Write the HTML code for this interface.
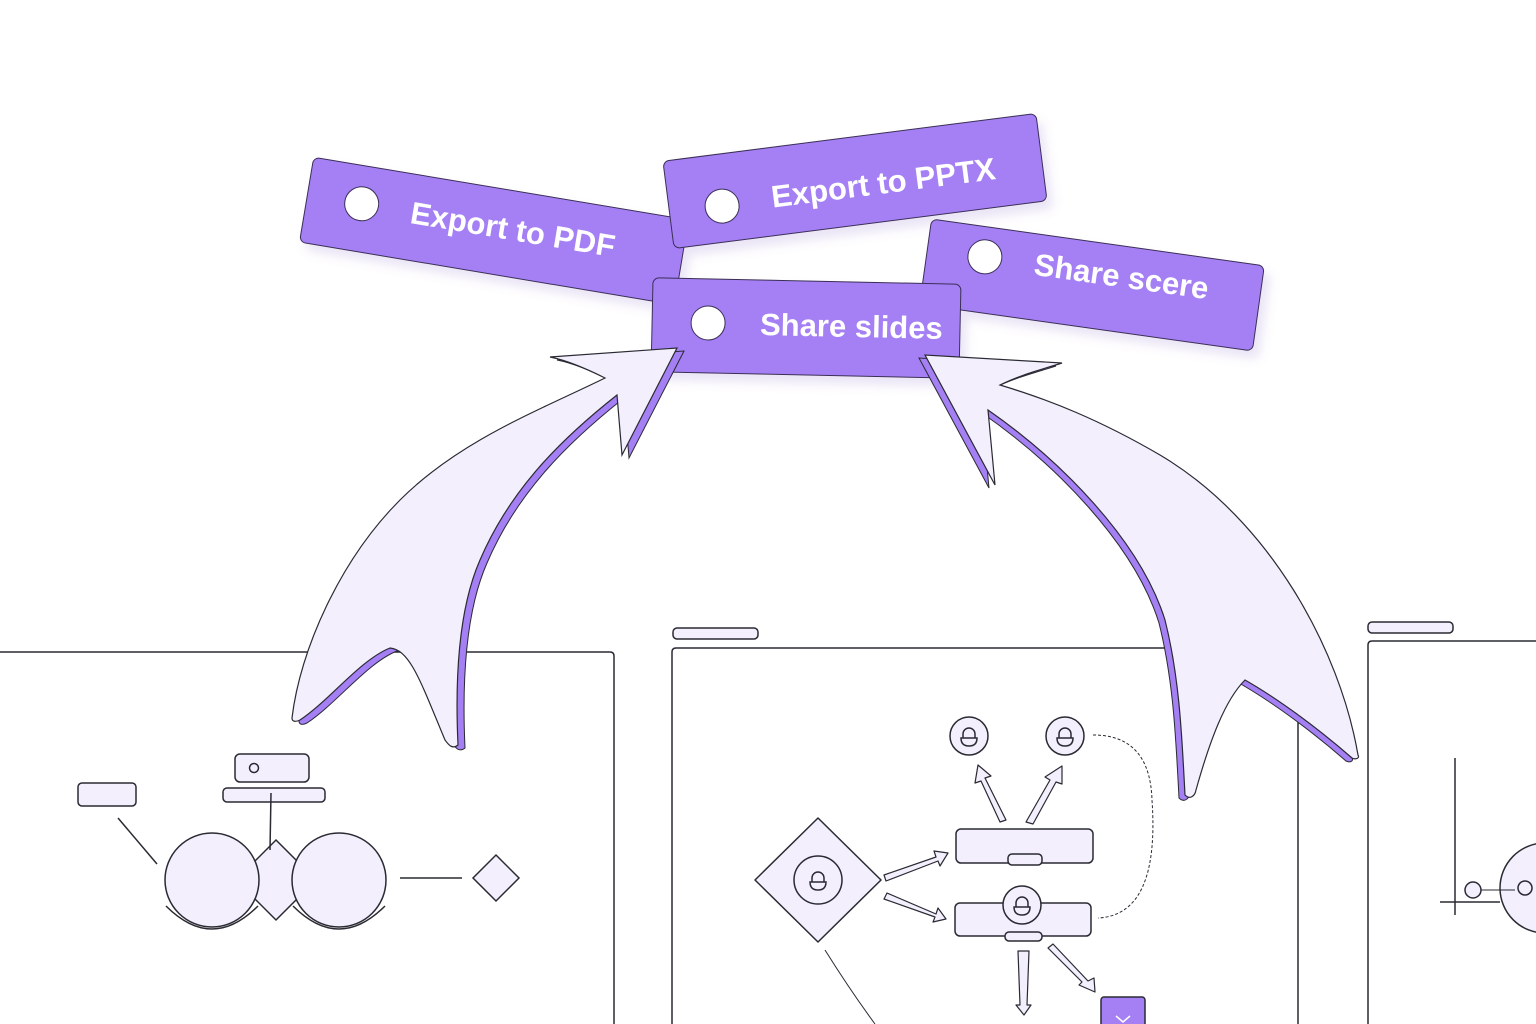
<!DOCTYPE html>
<html><head><meta charset="utf-8"><style>
html,body{margin:0;padding:0;background:#fff;}
svg{display:block;}
text{font-family:"Liberation Sans","DejaVu Sans",sans-serif;font-weight:bold;fill:#fff;}
</style></head><body>
<svg width="1536" height="1024" viewBox="0 0 1536 1024" xmlns="http://www.w3.org/2000/svg">
<defs>
<filter id="sh" x="-10%" y="-10%" width="130%" height="140%"><feDropShadow dx="6" dy="8" stdDeviation="5" flood-color="#8a70c8" flood-opacity="0.18"/></filter>
<g id="p"><path d="M-6 0 V-4 A6 6 0 0 1 6 -4 V0"/><path d="M-8 0 H8 Q8 8 0 8 Q-8 8 -8 0 Z"/></g>
</defs>
<g fill="none" stroke="#2a2a33" stroke-width="1.5">
<path d="M0 652 H610 Q614 652 614 656 V1024"/>
<path d="M672 1024 V652 Q672 648 676 648 H1294 Q1298 648 1298 652 V1024"/>
<path d="M1368 1024 V645 Q1368 641 1372 641 H1536"/>
<rect x="673" y="628" width="85" height="11" rx="4" fill="#f3effd"/>
<rect x="1368" y="622" width="85" height="11" rx="4" fill="#f3effd"/>
</g>

<g stroke="#2a2a33" stroke-width="1.5" fill="#f3effd">
<rect x="78" y="783" width="58" height="23" rx="4"/>
<rect x="235" y="754" width="74" height="28" rx="5"/>
<circle cx="254" cy="768" r="4.5"/>
<rect x="223" y="788" width="102" height="14" rx="4"/>
<path d="M276 840 L316 880 L276 920 L236 880 Z"/>
<circle cx="212" cy="880" r="47"/>
<circle cx="339" cy="880" r="47"/>
<path d="M496 855 L519 878 L496 901 L473 878 Z"/>
<path d="M166 906 Q212 952 258 906" fill="none"/>
<path d="M293 906 Q339 952 385 906" fill="none"/>
<line x1="271" y1="793" x2="270" y2="850"/>
<line x1="118" y1="818" x2="157" y2="864"/>
<line x1="400" y1="878" x2="462" y2="878"/>
</g>

<g stroke="#2a2a33" stroke-width="1.5" fill="#f3effd">
<path d="M825 950 Q850 990 875 1024" fill="none" stroke-width="1"/>
<path d="M1093 735 Q1150 735 1152 800 Q1160 915 1098 918" fill="none" stroke-dasharray="3 2" stroke-width="1"/>
<path d="M818 818 L881 880 L818 942 L755 880 Z" stroke-linejoin="round"/>
<circle cx="818" cy="880" r="24"/>
<circle cx="969" cy="736" r="19"/>
<circle cx="1065" cy="736" r="19"/>
<rect x="956" y="829" width="137" height="34" rx="5"/>
<rect x="1008" y="854" width="34" height="11" rx="4"/>
<rect x="955" y="903" width="136" height="33" rx="5"/>
<rect x="1005" y="932" width="37" height="9" rx="4"/>
<circle cx="1022" cy="905" r="19"/>
<rect x="1101" y="997" width="44" height="34" rx="3" fill="#a580f5"/>
</g>
<path d="M1116 1016 L1123 1022 L1130 1016" stroke="#fff" fill="none" stroke-width="1.5"/>
<g stroke="#2a2a33" stroke-width="1.5" fill="#f3effd">
<use href="#p" x="969" y="738"/>
<use href="#p" x="1065" y="738"/>
<use href="#p" x="1022" y="907"/>
<use href="#p" x="818" y="882"/>
</g>
<g stroke="#2a2a33" stroke-width="1.2" fill="#f3effd" stroke-linejoin="round">
<path d="M1000 822 L981 781 L975 783 L978 765 L991 776 L985 778 L1006 820 Z"/>
<path d="M1026 822 L1050 780 L1045 777 L1062 766 L1062 784 L1056 782 L1033 824 Z"/>
<path d="M884 875 L936 857 L934 851 L948 853 L940 866 L938 861 L886 881 Z"/>
<path d="M887 893 L936 914 L938 908 L946 919 L933 922 L935 917 L884 899 Z"/>
<path d="M1018 951 L1020 1005 L1016 1005 L1024 1015 L1031 1005 L1027 1005 L1029 951 Z"/>
<path d="M1048 948 L1082 982 L1079 985 L1095 992 L1094 978 L1088 981 L1053 944 Z"/>
</g>

<g stroke="#2a2a33" stroke-width="1.5" fill="#f3effd">
<line x1="1455" y1="758" x2="1455" y2="915" fill="none"/>
<line x1="1440" y1="902" x2="1500" y2="902" fill="none"/>
<circle cx="1545" cy="888" r="45"/>
<circle cx="1473" cy="890" r="8"/>
<path d="M1481 890 H1515" fill="none" stroke-width="1"/>
<circle cx="1525" cy="888" r="7" fill="none"/>
</g>

<!-- labels -->
<g filter="url(#sh)" stroke="#3a2f55" stroke-width="1">
<g transform="translate(494,231) rotate(9.5)">
<rect x="-190" y="-43" width="380" height="86" rx="6" fill="#a580f5"/>
<circle cx="-135" cy="-5" r="17" fill="#fff"/>
<text x="-85" y="6" font-size="31" stroke="none">Export to PDF</text>
</g>
<g transform="translate(855,181) rotate(-7.3)">
<rect x="-188" y="-44" width="376" height="88" rx="6" fill="#a580f5"/>
<circle cx="-135" cy="8" r="17" fill="#fff"/>
<text x="-85" y="16" font-size="31" stroke="none">Export to PPTX</text>
</g>
<g transform="translate(1092,285) rotate(8)">
<rect x="-168" y="-43" width="336" height="86" rx="6" fill="#a580f5"/>
<circle cx="-110" cy="-13" r="17" fill="#fff"/>
<text x="-60" y="-2" font-size="31" stroke="none">Share scere</text>
</g>
<g transform="translate(806,328) rotate(1.2)">
<rect x="-154" y="-47" width="308" height="94" rx="6" fill="#a580f5"/>
<circle cx="-98" cy="-3" r="17" fill="#fff"/>
<text x="-46" y="8" font-size="31" stroke="none">Share slides</text>
</g>
</g>

<!-- big arrows on top -->
<g>
<path transform="translate(7,3)" fill="#a580f5" stroke="#2a2a33" stroke-width="1" d="M292 718 C300 650 340 560 400 500 C460 440 540 410 605 378 C585 368 565 360 550 357 L677 348 L622 455 L617 395 C560 440 510 490 480 560 C458 610 455 680 458 745 C452 750 448 744 445 740 C420 680 410 650 390 648 C360 660 330 700 300 720 C296 722 292 722 292 718 Z"/>
<path fill="#f3effd" stroke="#2a2a33" stroke-width="1.2" d="M292 718 C300 650 340 560 400 500 C460 440 540 410 605 378 C585 368 565 360 550 357 L677 348 L622 455 L617 395 C560 440 510 490 480 560 C458 610 455 680 458 745 C452 750 448 744 445 740 C420 680 410 650 390 648 C360 660 330 700 300 720 C296 722 292 722 292 718 Z"/>
</g>
<g>
<path transform="translate(-6,3)" fill="#a580f5" stroke="#2a2a33" stroke-width="1" d="M1358 755 C1340 650 1270 520 1160 455 C1100 420 1050 400 1000 385 C1020 375 1040 370 1062 363 L925 355 L995 485 L988 410 C1060 460 1140 540 1165 620 C1180 680 1182 740 1185 795 C1190 800 1195 796 1196 790 C1210 740 1225 700 1245 680 C1280 700 1320 730 1352 758 C1356 760 1360 758 1358 755 Z"/>
<path fill="#f3effd" stroke="#2a2a33" stroke-width="1.2" d="M1358 755 C1340 650 1270 520 1160 455 C1100 420 1050 400 1000 385 C1020 375 1040 370 1062 363 L925 355 L995 485 L988 410 C1060 460 1140 540 1165 620 C1180 680 1182 740 1185 795 C1190 800 1195 796 1196 790 C1210 740 1225 700 1245 680 C1280 700 1320 730 1352 758 C1356 760 1360 758 1358 755 Z"/>
</g>
</svg>
</body></html>
